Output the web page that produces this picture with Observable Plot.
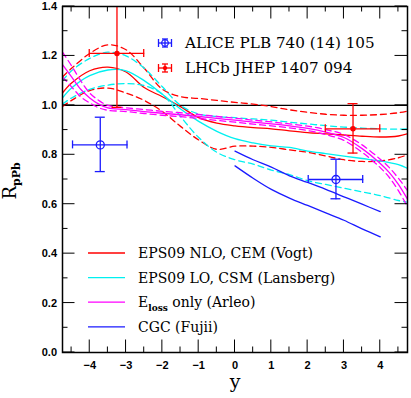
<!DOCTYPE html>
<html><head><meta charset="utf-8">
<script src="https://cdn.jsdelivr.net/npm/d3@7"></script>
<script src="https://cdn.jsdelivr.net/npm/@observablehq/plot@0.6"></script>
<style>body{margin:0;background:#fff}#chart{width:411px;height:398px}</style>
</head><body><div id="chart"></div>
<script>
// ---------- data ----------
const thX = [-4.75,-4.5,-4,-3.5,-3,-2.5,-2,-1.5,-1,-0.5,0,0.5,1,1.5,2,2.5,3,3.5,4,4.5,4.75];
const vogtCentral = [1.05,1.09,1.14,1.155,1.135,1.072,1.035,0.995,0.95,0.928,0.917,0.91,0.905,0.897,0.89,0.885,0.88,0.875,0.872,0.876,0.885];
const vogtUpper   = [1.115,1.15,1.21,1.245,1.225,1.15,1.065,1.035,1.028,1.02,1.012,1.005,0.995,0.982,0.972,0.964,0.96,0.96,0.963,0.97,0.977];
const vogtLower   = [0.995,1.02,1.06,1.07,1.05,1.02,0.975,0.915,0.86,0.822,0.835,0.835,0.83,0.82,0.81,0.795,0.78,0.773,0.775,0.788,0.80];
const lansCentral = [1.03,1.07,1.12,1.143,1.14,1.10,1.045,0.985,0.935,0.895,0.865,0.848,0.836,0.83,0.815,0.805,0.795,0.785,0.775,0.76,0.745];
const lansUpper   = [1.10,1.14,1.19,1.215,1.20,1.15,1.075,1.0,0.965,0.955,0.95,0.945,0.94,0.932,0.925,0.918,0.912,0.908,0.905,0.904,0.905];
const lansLower   = [1.005,1.03,1.065,1.082,1.088,1.08,1.045,0.955,0.87,0.81,0.78,0.762,0.738,0.72,0.695,0.68,0.665,0.65,0.635,0.615,0.608];
const magX = [-4.75,-4.5,-4.25,-4,-3.75,-3.5,-3,-2.5,-2,-1.5,-1,-0.5,0,0.5,1,1.5,2,2.5,3,3.5,4,4.25,4.5,4.75];
const arleoCentral = [1.165,1.115,1.065,1.03,1.005,0.99,0.983,0.975,0.968,0.962,0.955,0.947,0.94,0.932,0.925,0.917,0.907,0.892,0.87,0.825,0.765,0.728,0.68,0.62];
const arleoUpper   = [1.215,1.16,1.10,1.05,1.02,1.0,0.99,0.983,0.976,0.97,0.963,0.955,0.948,0.94,0.933,0.925,0.916,0.902,0.882,0.84,0.782,0.748,0.705,0.655];
const arleoLower   = [1.115,1.075,1.035,1.01,0.99,0.98,0.975,0.967,0.96,0.954,0.947,0.939,0.932,0.924,0.917,0.909,0.898,0.882,0.858,0.81,0.748,0.708,0.655,0.59];
const cgcX = [0,0.5,1,1.5,2,2.5,3,3.5,4];
const fujiiUpper = [0.815,0.78,0.75,0.715,0.688,0.66,0.63,0.60,0.57];
const fujiiLower = [0.755,0.705,0.66,0.625,0.595,0.565,0.535,0.50,0.468];

const aliceY   = [-3.71, 2.78];
const aliceR   = [0.84, 0.70];
const aliceDy  = [0.75, 0.75];
const aliceDR  = [0.11, 0.08];
const lhcbY    = [-3.25, 3.25];
const lhcbR    = [1.21, 0.905];
const lhcbDy   = [0.75, 0.75];
const lhcbDR   = [0.22, 0.10];

const xMajor = [-4,-3,-2,-1,0,1,2,3,4];
const xMajorLabels = ["\u22124","\u22123","\u22122","\u22121","0","1","2","3","4"];
const xMinor = [-4.5,-3.5,-2.5,-1.5,-0.5,0.5,1.5,2.5,3.5,4.5];
const yMajor = [0,0.2,0.4,0.6,0.8,1.0,1.2,1.4];
const yMajorLabels = ["0.0","0.2","0.4","0.6","0.8","1.0","1.2","1.4"];
const yMinor = [0.1,0.3,0.5,0.7,0.9,1.1,1.3];

const legendModels = ["EPS09 NLO, CEM (Vogt)","EPS09 LO, CSM (Lansberg)","E|loss| only (Arleo)","CGC (Fujii)"];
const legendData = ["ALICE PLB 740 (14) 105","LHCb JHEP 1407 094"];

// ---------- styles ----------
const RED = "#ff0000", CYAN = "#00f0f0", MAG = "#ff00ff", BLUE = "#1a1aff";
const modelColors = [RED, CYAN, MAG, BLUE];
const DASH = "6,4";
const LW = 1.3;
const TICKFONT = "Liberation Sans, Arial, sans-serif";
const SERIF = "DejaVu Serif, serif";
const X0 = -4.75, X1 = 4.75, Y0 = 0, Y1 = 1.4;

const rows = (xs, ys) => xs.map((x, i) => ({x, r: ys[i]}));

function band(xs, c, u, l, color) {
  return [
    Plot.line(rows(xs, u), {x: "x", y: "r", stroke: color, strokeWidth: LW, strokeDasharray: DASH, curve: "catmull-rom", clip: true}),
    Plot.line(rows(xs, l), {x: "x", y: "r", stroke: color, strokeWidth: LW, strokeDasharray: DASH, curve: "catmull-rom", clip: true}),
    Plot.line(rows(xs, c), {x: "x", y: "r", stroke: color, strokeWidth: LW, curve: "catmull-rom", clip: true})
  ];
}
const pts = (xs, rs, dxs, drs) => xs.map((x, i) => ({x, r: rs[i], dx: dxs[i], dr: drs[i]}));
function errorBars(d, color) {
  return [
    Plot.link(d, {x1: v => v.x - v.dx, x2: v => v.x + v.dx, y1: "r", y2: "r", stroke: color, strokeWidth: 1.3, clip: true}),
    Plot.link(d, {x1: "x", x2: "x", y1: v => v.r - v.dr, y2: v => v.r + v.dr, stroke: color, strokeWidth: 1.3, clip: true})
  ];
}
const lhcbPts = pts(lhcbY, lhcbR, lhcbDy, lhcbDR);
const alicePts = pts(aliceY, aliceR, aliceDy, aliceDR);

const plot = Plot.plot({
  width: 411, height: 398,
  marginLeft: 62, marginRight: 4, marginTop: 6, marginBottom: 46,
  x: {domain: [X0, X1], axis: null},
  y: {domain: [Y0, Y1], axis: null},
  style: {background: "white"},
  marks: [
    Plot.ruleY([1], {stroke: "black", strokeWidth: 1.3}),
    ...band(thX, vogtCentral, vogtUpper, vogtLower, RED),
    ...band(thX, lansCentral, lansUpper, lansLower, CYAN),
    ...band(magX, arleoCentral, arleoUpper, arleoLower, MAG),
    Plot.line(rows(cgcX, fujiiUpper), {x: "x", y: "r", stroke: BLUE, strokeWidth: LW, curve: "catmull-rom"}),
    Plot.line(rows(cgcX, fujiiLower), {x: "x", y: "r", stroke: BLUE, strokeWidth: LW, curve: "catmull-rom"}),
    ...errorBars(lhcbPts, RED),
    Plot.dot(lhcbPts, {x: "x", y: "r", r: 2, fill: RED, stroke: RED}),
    ...errorBars(alicePts, BLUE),
    Plot.dot(alicePts, {x: "x", y: "r", r: 4, fill: "none", stroke: BLUE, strokeWidth: 1.3}),
    Plot.frame({stroke: "black", strokeWidth: 1.5}),
    Plot.text(xMajor, {x: d => d, y: () => Y0, text: (d, i) => xMajorLabels[i], dy: 12.5, fontSize: 11, fontWeight: "bold", fontFamily: TICKFONT, fill: "black"}),
    Plot.text(yMajor, {x: () => X0, y: d => d, text: (d, i) => yMajorLabels[i], dx: -5.5, textAnchor: "end", fontSize: 11, fontWeight: "bold", fontFamily: TICKFONT, fill: "black"})
  ]
});
document.getElementById("chart").appendChild(plot);

// ---------- ticks, caps, titles, legends ----------
const svg = d3.select(plot);
const sx = plot.scale("x"), sy = plot.scale("y");
const px = v => sx.apply(v), py = v => sy.apply(v);
const fL = px(X0), fR = px(X1), fT = py(Y1), fB = py(Y0);

const tg = svg.append("g").attr("stroke", "black").attr("stroke-width", 1);
function ln(g, x1, y1, x2, y2) { g.append("line").attr("x1", x1).attr("y1", y1).attr("x2", x2).attr("y2", y2); }
const MAJ = 12.5, MIN = 5.5;
xMajor.forEach(v => { ln(tg, px(v), fB, px(v), fB - MAJ); ln(tg, px(v), fT, px(v), fT + MAJ); });
xMinor.forEach(v => { ln(tg, px(v), fB, px(v), fB - MIN); ln(tg, px(v), fT, px(v), fT + MIN); });
yMajor.forEach(v => { ln(tg, fL, py(v), fL + MAJ, py(v)); ln(tg, fR, py(v), fR - MAJ, py(v)); });
yMinor.forEach(v => { ln(tg, fL, py(v), fL + MIN, py(v)); ln(tg, fR, py(v), fR - MIN, py(v)); });

// error bar caps
function caps(d, color) {
  const g = svg.append("g").attr("stroke", color).attr("stroke-width", 1.3);
  d.forEach(v => {
    const cy = py(v.r);
    [v.x - v.dx, v.x + v.dx].forEach(xx => ln(g, px(xx), cy - 4, px(xx), cy + 4));
    [v.r - v.dr, v.r + v.dr].forEach(rr => { if (rr <= Y1) ln(g, px(v.x) - 5, py(rr), px(v.x) + 5, py(rr)); });
  });
}
caps(lhcbPts, RED);
caps(alicePts, BLUE);

// y-axis title
const yt = svg.append("text")
  .attr("transform", `translate(16,${(fT + fB) / 2 + 2}) rotate(-90)`)
  .attr("text-anchor", "middle").attr("font-family", SERIF).attr("fill", "black");
yt.append("tspan").attr("font-size", 18).text("R");
yt.append("tspan").attr("font-size", 11).attr("font-weight", "bold").attr("dy", 4).text("pPb");

// x-axis title
svg.append("text").attr("x", (fL + fR) / 2 + 0.5).attr("y", 388)
  .attr("text-anchor", "middle").attr("font-family", SERIF).attr("font-size", 19).attr("fill", "black").text("y");

// model legend (bottom-left)
const lg = svg.append("g").attr("transform", `translate(${fL + 26},${fB - 99})`);
legendModels.forEach((t, i) => {
  const gy = i * 24.6;
  lg.append("line").attr("x1", 0).attr("x2", 37).attr("y1", gy).attr("y2", gy)
    .attr("stroke", modelColors[i]).attr("stroke-width", 1.3);
  const tx = lg.append("text").attr("x", 50).attr("y", gy + 5).attr("text-anchor", "start")
    .attr("font-family", SERIF).attr("font-size", 14).attr("fill", "black");
  const parts = t.split("|");
  tx.append("tspan").text(parts[0]);
  if (parts.length > 1) {
    tx.append("tspan").attr("font-size", 9).attr("font-weight", "bold").attr("dy", 4).text(parts[1]);
    tx.append("tspan").attr("dy", -4).text(parts[2]);
  }
});

// data legend (top)
const dg = svg.append("g").attr("transform", `translate(165,${fT + 37})`);
const dataColors = [BLUE, RED];
legendData.forEach((t, i) => {
  const g = dg.append("g").attr("transform", `translate(0,${i * 25})`).attr("stroke", dataColors[i]).attr("stroke-width", 1.3);
  ln(g, -6.5, 0, 6.5, 0);
  ln(g, 0, -4, 0, 4);
  ln(g, -6.5, -4, -6.5, 4);
  ln(g, 6.5, -4, 6.5, 4);
  ln(g, -3, -4, 3, -4);
  ln(g, -3, 4, 3, 4);
  if (i === 0) g.append("circle").attr("r", 3.3).attr("fill", "none");
  else g.append("circle").attr("r", 1.6).attr("fill", dataColors[i]);
  dg.append("text").attr("x", 20).attr("y", i * 25 + 5).attr("text-anchor", "start").attr("font-family", SERIF)
    .attr("font-size", 15.2).attr("fill", "black").text(t);
});
</script>
</body></html>
